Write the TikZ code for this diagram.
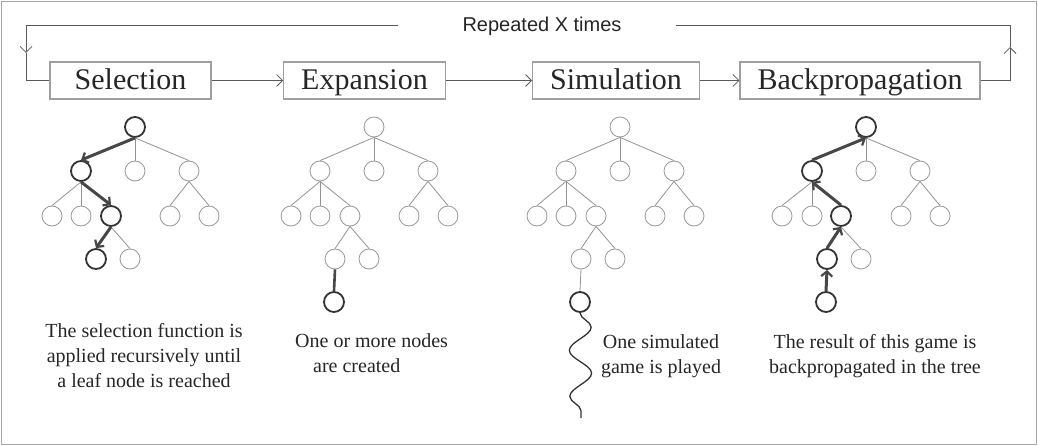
\documentclass[tikz,border=0pt]{standalone}
\usepackage{fontspec}
\setmainfont{Liberation Serif}
\newfontfamily\repfont{Liberation Sans}
\usetikzlibrary{arrows.meta, snakes}

\begin{document}
\begin{tikzpicture}[x=1pt,y=-1pt,
	stage/.style={draw=gray!75, line width=1.1pt, minimum width=161pt, minimum height=37pt, inner xsep=17.5pt, inner ysep=0pt, text height=22pt, text depth=3pt, font=\fontsize{30}{36}\selectfont, text=black!85},
	flow/.style={draw=black!65, line width=0.9pt, -{Straight Barb[length=6pt,width=12pt,line width=0.8pt]}},
	flowline/.style={draw=black!65, line width=0.9pt},
	tnode/.style={circle, draw=gray!80, line width=0.8pt, minimum size=20pt, inner sep=0pt},
	tbold/.style={circle, draw=black!80, line width=1.8pt, minimum size=20pt, inner sep=0pt},
	tedge/.style={draw=gray!85, line width=0.8pt},
	tpath/.style={draw=black!72, line width=3pt, -{Straight Barb[length=5pt,width=11pt,line width=2.2pt]}},
	tstem/.style={draw=black!72, line width=2.6pt},
	note/.style={font=\fontsize{20}{25}\selectfont, align=center, inner sep=0pt, text=black!85},
	wave/.style={draw=black!80, line width=1.3pt, snake=snake, segment amplitude=11pt, segment length=46pt}]
\useasboundingbox (0,0) rectangle (1038,446);
\draw[gray!70, line width=1.2pt] (1.5,1.5) rectangle (1036.5,444.5);

	\node[stage] (sel) at (130.5,80.5) {Selection};
	\node[stage] (exp) at (364.5,80.5) {Expansion};
	\node[stage] (sim) at (616,80.5) {Simulation};
	\node[stage] (back) at (860,80.5) {Backpropagation};
	\node[font=\repfont\fontsize{20}{24}\selectfont, text=black!85, anchor=base] (rep) at (542,32) {Repeated X times};
	\coordinate (upr) at (1010,47);
	\coordinate (topr) at (676,25);
	\coordinate (topl) at (398,25);
	\coordinate (downl) at (26,53);
	\draw[flow] (sel) -- (exp);
	\draw[flow] (exp) -- (sim);
	\draw[flow] (sim) -- (back);
	\draw[flow] (back.east) -| (upr);
	\draw[flowline] (upr) |- (topr);
	\draw[flow] (topl) -| (downl);
	\draw[flowline] (downl) |- (sel.west);

	\node[tbold] (a0) at (135,127) {};
	\node[tbold] (a1) at (81,171) {};
	\node[tnode] (a2) at (135,171) {};
	\node[tnode] (a3) at (189,171) {};
	\node[tnode] (a4) at (52,216) {};
	\node[tnode] (a5) at (81,216) {};
	\node[tbold] (a6) at (111,216) {};
	\node[tnode] (a7) at (170,216) {};
	\node[tnode] (a8) at (209,216) {};
	\node[tbold] (a9) at (96,259) {};
	\node[tnode] (a10) at (130,259) {};
	\draw[tedge] (a0.south) -- (a2.north);
	\draw[tedge] (a0.south) -- (a3.north);
	\draw[tedge] (a1.south) -- (a4.north);
	\draw[tedge] (a1.south) -- (a5.north);
	\draw[tedge] (a3.south) -- (a7.north);
	\draw[tedge] (a3.south) -- (a8.north);
	\draw[tedge] (a6.south) -- (a10.north);
	\draw[tpath] (a0.south) -- (a1.north);
	\draw[tpath] (a1.south) -- (a6.north);
	\draw[tpath] (a6.south) -- (a9.north);

	\node[tnode] (b0) at (374,127) {};
	\node[tnode] (b1) at (320,171) {};
	\node[tnode] (b2) at (374,171) {};
	\node[tnode] (b3) at (428,171) {};
	\node[tnode] (b4) at (291,216) {};
	\node[tnode] (b5) at (320,216) {};
	\node[tnode] (b6) at (350,216) {};
	\node[tnode] (b7) at (409,216) {};
	\node[tnode] (b8) at (448,216) {};
	\node[tnode] (b9) at (335,259) {};
	\node[tnode] (b10) at (369,259) {};
	\node[tbold] (b11) at (334,302) {};
	\draw[tedge] (b0.south) -- (b1.north);
	\draw[tedge] (b0.south) -- (b2.north);
	\draw[tedge] (b0.south) -- (b3.north);
	\draw[tedge] (b1.south) -- (b4.north);
	\draw[tedge] (b1.south) -- (b5.north);
	\draw[tedge] (b1.south) -- (b6.north);
	\draw[tedge] (b3.south) -- (b7.north);
	\draw[tedge] (b3.south) -- (b8.north);
	\draw[tedge] (b6.south) -- (b9.north);
	\draw[tedge] (b6.south) -- (b10.north);
	\draw[tstem] (b9.south) -- (b11.north);

	\node[tnode] (c0) at (620,127) {};
	\node[tnode] (c1) at (566,171) {};
	\node[tnode] (c2) at (620,171) {};
	\node[tnode] (c3) at (674,171) {};
	\node[tnode] (c4) at (537,216) {};
	\node[tnode] (c5) at (566,216) {};
	\node[tnode] (c6) at (596,216) {};
	\node[tnode] (c7) at (655,216) {};
	\node[tnode] (c8) at (694,216) {};
	\node[tnode] (c9) at (581,259) {};
	\node[tnode] (c10) at (615,259) {};
	\node[tbold] (c11) at (580,302) {};
	\coordinate (simend) at (581,418);
	\draw[tedge] (c0.south) -- (c1.north);
	\draw[tedge] (c0.south) -- (c2.north);
	\draw[tedge] (c0.south) -- (c3.north);
	\draw[tedge] (c1.south) -- (c4.north);
	\draw[tedge] (c1.south) -- (c5.north);
	\draw[tedge] (c1.south) -- (c6.north);
	\draw[tedge] (c3.south) -- (c7.north);
	\draw[tedge] (c3.south) -- (c8.north);
	\draw[tedge] (c6.south) -- (c9.north);
	\draw[tedge] (c6.south) -- (c10.north);
	\draw[tedge] (c9.south) -- (c11.north);
	\draw[wave] (c11.south) -- (simend);

	\node[tbold] (d0) at (866,127) {};
	\node[tbold] (d1) at (812,171) {};
	\node[tnode] (d2) at (866,171) {};
	\node[tnode] (d3) at (920,171) {};
	\node[tnode] (d4) at (782,216) {};
	\node[tnode] (d5) at (812,216) {};
	\node[tbold] (d6) at (841,216) {};
	\node[tnode] (d7) at (901,216) {};
	\node[tnode] (d8) at (940,216) {};
	\node[tbold] (d9) at (827,259) {};
	\node[tnode] (d10) at (861,259) {};
	\node[tbold] (d11) at (826,302) {};
	\draw[tedge] (d0.south) -- (d2.north);
	\draw[tedge] (d0.south) -- (d3.north);
	\draw[tedge] (d1.south) -- (d4.north);
	\draw[tedge] (d1.south) -- (d5.north);
	\draw[tedge] (d3.south) -- (d7.north);
	\draw[tedge] (d3.south) -- (d8.north);
	\draw[tedge] (d6.south) -- (d10.north);
	\draw[tpath] (d11.north) -- (d9.south);
	\draw[tpath] (d9.north) -- (d6.south);
	\draw[tpath] (d6.north) -- (d1.south);
	\draw[tpath] (d1.north) -- (d0.south);

	\node[note, anchor=north] (selnote) at (144,323) {The selection function is\\applied recursively until\\a leaf node is reached};
	\node[note, align=left, anchor=north west] (expnote) at (295,333) {One or more nodes\\\hspace*{18pt}are created};
	\node[note, anchor=north] (simnote) at (661,334) {One simulated\\game is played};
	\node[note, anchor=north] (backnote) at (875,334) {The result of this game is\\backpropagated in the tree};
\end{tikzpicture}
\end{document}
